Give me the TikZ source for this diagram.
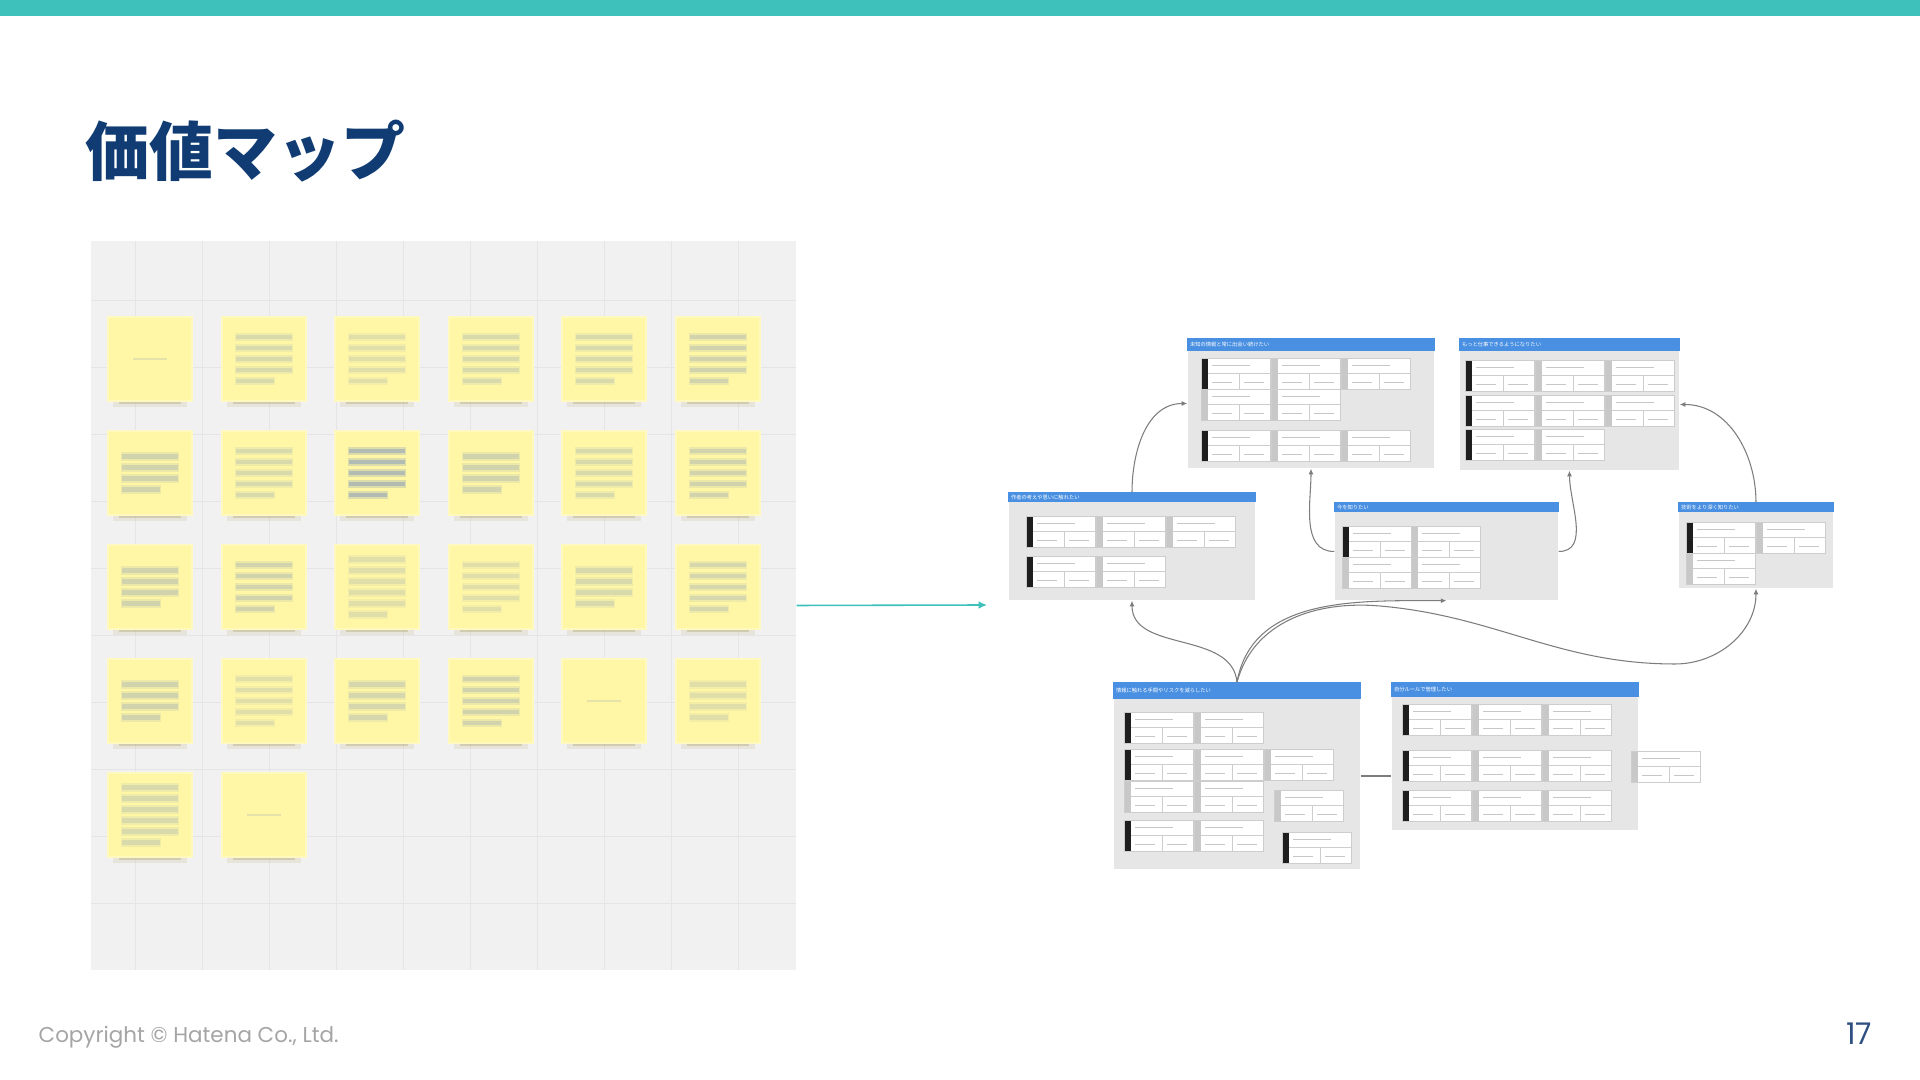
\documentclass[tikz,border=0pt]{standalone}
\usepackage{fontspec}
\setmainfont{Poppins}
\newfontfamily\jpfont{Noto Sans CJK JP}
\usetikzlibrary{arrows.meta,positioning,fit,calc}

\definecolor{barteal}{RGB}{61,193,186}
\definecolor{titlenavy}{RGB}{16,60,115}
\definecolor{footgray}{RGB}{165,165,165}
\definecolor{pagenavy}{RGB}{47,79,128}
\definecolor{panelgray}{RGB}{241,241,241}
\definecolor{gridgray}{RGB}{229,229,229}
\definecolor{noteyellow}{RGB}{255,247,165}
\definecolor{noteshadow}{RGB}{170,160,100}
\definecolor{blurblue}{RGB}{130,150,190}
\definecolor{boxgray}{RGB}{230,230,230}
\definecolor{boxblue}{RGB}{74,144,226}
\definecolor{stripgray}{RGB}{200,200,200}
\definecolor{stripblack}{RGB}{30,30,30}
\definecolor{cardline}{RGB}{205,205,205}
\definecolor{linkgray}{RGB}{125,125,125}

% one card of the value map: x, y, strip colour
\newcommand{\card}[3]{%
  \fill[white] (#1,#2) rectangle ++(69,31);
  \fill[#3] (#1,#2) rectangle ++(7,31);
  \draw[cardedge] (#1,#2) rectangle ++(69,31);
  \draw[cardedge] (#1,#2) ++(7,15.5) -- ++(62,0);
  \draw[cardedge] (#1,#2) ++(38,15.5) -- ++(0,15.5);
  \draw[cardtext] (#1,#2) ++(11,7) -- ++(38,0);
  \draw[cardtext] (#1,#2) ++(11,24) -- ++(20,0) ++(12,0) -- ++(20,0);
}

\begin{document}
\begin{tikzpicture}[x=0.01cm,y=-0.01cm,
    valuebox/.style={fill=boxgray,inner sep=0pt},
    boxtitle/.style={anchor=west,inner sep=0pt,text=white,font=\jpfont\fontsize{1.5}{1.8}\selectfont},
    link/.style={draw=linkgray,line width=0.3pt,-{Latex[length=1.6pt,width=1.4pt]}},
    plainlink/.style={draw=linkgray,line width=0.3pt},
    cardedge/.style={draw=cardline,line width=0.12pt},
    cardtext/.style={draw=black!22,line width=0.15pt}]
  \useasboundingbox (0,0) rectangle (1920,1080);
  \fill[white] (0,0) rectangle (1920,1080);
  \fill[barteal] (0,0) rectangle (1920,16);

  \node[anchor=base west,inner sep=0pt,text=titlenavy,font=\jpfont\bfseries\fontsize{18.2pt}{20pt}\selectfont] (title) at (85,176) {価値マップ};

  % board with sticky notes
  \node[fit={(91,241) (796,970)},fill=panelgray,inner sep=0pt] (board) {};
  \foreach \gx in {135,202,...,790} \draw[gridgray,line width=0.25pt] (\gx,241) -- (\gx,970);
  \foreach \gy in {300,367,...,965} \draw[gridgray,line width=0.25pt] (91,\gy) -- (796,\gy);
  \foreach \r/\c/\n/\o in {0/0/1/.2,0/1/5/.2,0/2/5/.16,0/3/5/.2,0/4/5/.2,0/5/5/.25,
      1/0/4/.25,1/1/5/.2,1/2/5/.45,1/3/4/.25,1/4/5/.2,1/5/5/.25,
      2/0/4/.25,2/1/5/.25,2/2/6/.16,2/3/5/.16,2/4/4/.2,2/5/5/.22,
      3/0/4/.25,3/1/5/.16,3/2/4/.22,3/3/5/.25,3/4/1/.2,3/5/4/.16,
      4/0/6/.2,4/1/1/.2} {
    \pgfmathsetmacro\nx{109+113.6*\c}
    \pgfmathsetmacro\ny{318+114*\r}
    \fill[noteshadow,opacity=.15] (\nx+4,\ny+78) rectangle (\nx+78,\ny+89);
    \fill[noteshadow,opacity=.35] (\nx+10,\ny+80) rectangle (\nx+72,\ny+86);
    \fill[noteyellow!70!white] (\nx-2,\ny-2) rectangle ++(86,86);
    \fill[noteyellow] (\nx,\ny) rectangle ++(82,82);
    \ifnum\n=1
      \draw[blurblue,opacity=\o,line width=0.8pt] (\nx+24,\ny+41) -- (\nx+58,\ny+41);
    \else
      \foreach \i in {1,...,\n} {
        \pgfmathsetmacro\ly{\ny+41-(\n-1)*5.5+(\i-1)*11}
        \pgfmathsetmacro\xe{ifthenelse(\i==\n,52,70)}
        \draw[blurblue,opacity=\o*0.6,line width=2.4pt] (\nx+12,\ly) -- (\nx+\xe,\ly);
        \draw[blurblue,opacity=\o,line width=1.2pt] (\nx+13,\ly) -- (\nx+\xe-1,\ly);
      }
    \fi
  }

  \coordinate (mapstart) at (987,605);
  \draw[barteal,line width=0.45pt,-{Latex[length=2.4pt,width=2.2pt]}] (board.east) -- (mapstart);

  % value map boxes
  \node[valuebox,fit={(1188,339) (1434,468)}] (boxA) {};
  \fill[boxblue] (boxA.north west) rectangle ($(boxA.north east)+(0,13)$);
  \path (boxA.north west) ++(2,6.5) node[boxtitle] (titleA) {未知の情報と常に出会い続けたい};

  \node[valuebox,fit={(1460,339) (1679,470)}] (boxB) {};
  \fill[boxblue] (boxB.north west) rectangle ($(boxB.north east)+(0,13)$);
  \path (boxB.north west) ++(2,6.5) node[boxtitle] (titleB) {もっと仕事できるようになりたい};

  \node[valuebox,fit={(1009,493) (1255,600)}] (boxC) {};
  \fill[boxblue] (boxC.north west) rectangle ($(boxC.north east)+(0,10)$);
  \path (boxC.north west) ++(2,5) node[boxtitle] (titleC) {作者の考えや思いに触れたい};

  \node[valuebox,fit={(1335,503) (1558,600)}] (boxD) {};
  \fill[boxblue] (boxD.north west) rectangle ($(boxD.north east)+(0,10)$);
  \path (boxD.north west) ++(2,5) node[boxtitle] (titleD) {今を知りたい};

  \node[valuebox,fit={(1679,503) (1833,588)}] (boxE) {};
  \fill[boxblue] (boxE.north west) rectangle ($(boxE.north east)+(0,10)$);
  \path (boxE.north west) ++(2,5) node[boxtitle] (titleE) {技術をより深く知りたい};

  \node[valuebox,fit={(1114,683) (1360,869)}] (boxF) {};
  \fill[boxblue] (boxF.north west) rectangle ($(boxF.north east)+(0,17)$);
  \path (boxF.north west) ++(2,8.5) node[boxtitle] (titleF) {情報に触れる手間やリスクを減らしたい};

  \node[valuebox,fit={(1392,683) (1638,830)}] (boxG) {};
  \fill[boxblue] (boxG.north west) rectangle ($(boxG.north east)+(0,15)$);
  \path (boxG.north west) ++(2,7.5) node[boxtitle] (titleG) {自分ルールで管理したい};

  % cards
  \foreach \cx/\cy/\cs in {1201/358/stripblack,1271/358/stripgray,1341/358/stripgray,
      1201/389/stripgray,1271/389/stripgray,
      1201/430/stripblack,1271/430/stripgray,1341/430/stripgray,
      1465/360/stripblack,1535/360/stripgray,1605/360/stripgray,
      1465/395/stripblack,1535/395/stripgray,1605/395/stripgray,
      1465/429/stripblack,1535/429/stripgray,
      1026/516/stripblack,1096/516/stripgray,1166/516/stripgray,
      1026/556/stripblack,1096/556/stripgray,
      1342/526/stripblack,1411/526/stripgray,1342/557/stripgray,1411/557/stripgray,
      1686/522/stripblack,1756/522/stripgray,1686/553/stripgray,
      1124/712/stripblack,1194/712/stripgray,
      1124/749/stripblack,1194/749/stripgray,1264/749/stripgray,
      1124/781/stripgray,1194/781/stripgray,1274/790/stripgray,
      1124/820/stripblack,1194/820/stripgray,1282/832/stripblack,
      1402/704/stripblack,1472/704/stripgray,1542/704/stripgray,
      1402/750/stripblack,1472/750/stripgray,1542/750/stripgray,
      1402/790/stripblack,1472/790/stripgray,1542/790/stripgray,
      1631/751/stripgray}
    \card{\cx}{\cy}{\cs};

  % connectors
  \coordinate (midbend) at (1380,606);
  \coordinate (lowbend) at (1675,664);
  \draw[link] (boxC.north) to[out=90,in=180] (boxA.west);
  \draw[link] (boxD.west) to[out=180,in=-90] (boxA.south);
  \draw[link] (boxD.east) to[out=0,in=-90] (boxB.south);
  \draw[link] (boxE.north) to[out=90,in=0] (boxB.east);
  \draw[link] (boxF.north) to[out=95,in=-90] (boxC.south);
  \draw[link] (boxF.north) to[out=80,in=180] (boxD.south);
  \draw[link] (boxF.north) to[out=75,in=175] (midbend) to[out=-5,in=180] (lowbend) to[out=0,in=-90] (boxE.south);
  \draw[plainlink] (boxF.east) -- (boxF.east -| boxG.west);

  % footer
  \node[anchor=base west,inner sep=0pt,text=footgray,font=\fontsize{6.1pt}{7pt}\selectfont] (copyright) at (38,1043) {Copyright © Hatena Co., Ltd.};
  \node[anchor=base east,inner sep=0pt,text=pagenavy,font=\fontsize{8.5pt}{10pt}\selectfont] (pagenum) at (1873,1045) {17};
\end{tikzpicture}
\end{document}
